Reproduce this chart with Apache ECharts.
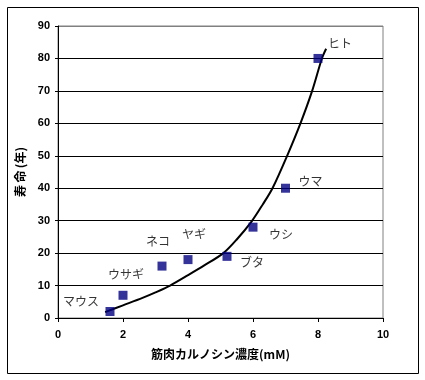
<!DOCTYPE html>
<html><head><meta charset="utf-8">
<script src="https://cdn.jsdelivr.net/npm/echarts@6/dist/echarts.min.js"></script>
<style>html,body{margin:0;padding:0;background:#fff}#c{width:425px;height:380px}</style>
</head><body><div id="c"></div>
<script>
// Data
const animals = ['マウス','ウサギ','ネコ','ヤギ','ブタ','ウシ','ウマ','ヒト'];
const carnosine = [1.6, 2, 3.2, 4, 5.2, 6, 7, 8];
const lifespan = [2, 7, 16, 18, 19, 28, 40, 80];
// trend curve points
const trendX = [1.45, 2.0, 2.6, 3.0, 3.45, 4.0, 4.5, 5.09, 5.5, 5.96, 6.3, 6.6, 7.05, 7.46, 7.82, 8.12, 8.25];
const trendY = [1.8, 3.9, 6.2, 7.9, 10.0, 13.2, 16.2, 20.0, 24.2, 29.8, 35.0, 40.0, 50.0, 60.0, 70.0, 80.0, 83.0];
const xTicks = [0, 2, 4, 6, 8, 10];
const yTicks = [0, 10, 20, 30, 40, 50, 60, 70, 80, 90];

const labelOffsets = {
  'マウス': [-29, -10], 'ウサギ': [3, -21], 'ネコ': [-4, -25], 'ヤギ': [6, -25],
  'ブタ': [25, 6], 'ウシ': [28, 7], 'ウマ': [25, -7], 'ヒト': [22, -15]
};

const chart = echarts.init(document.getElementById('c'), null, {renderer: 'canvas'});
const tickFont = {fontFamily: 'Liberation Sans', fontWeight: 'bold', fontSize: 11, color: '#000'};
const splitColors = yTicks.map((v, i) => i === yTicks.length - 1 ? '#808080' : '#000');

chart.setOption({
  animation: false,
  backgroundColor: '#fff',
  graphic: [{
    type: 'rect', shape: {x: 7.5, y: 7.5, width: 411, height: 366},
    style: {fill: 'none', stroke: '#000', lineWidth: 1}, z: -1
  }],
  grid: {left: 58, right: 42, top: 26, bottom: 62, show: true, borderColor: '#808080', borderWidth: 1, backgroundColor: '#fff'},
  xAxis: {
    type: 'value', min: xTicks[0], max: xTicks[xTicks.length - 1], interval: 2,
    name: '筋肉カルノシン濃度(mM)', nameLocation: 'middle', nameGap: 30,
    nameTextStyle: {fontFamily: 'Noto Sans CJK JP', fontWeight: 'bold', fontSize: 12, color: '#000'},
    axisLine: {lineStyle: {color: '#000', width: 1}},
    axisTick: {show: true, length: 4, lineStyle: {color: '#000'}},
    axisLabel: Object.assign({margin: 11}, tickFont),
    splitLine: {show: false}
  },
  yAxis: {
    type: 'value', min: yTicks[0], max: yTicks[yTicks.length - 1], interval: 10,
    name: '寿\u2009命\u2009(年)', nameLocation: 'middle', nameGap: 32, nameRotate: 90,
    nameTextStyle: {fontFamily: 'Noto Sans CJK JP', fontWeight: 'bold', fontSize: 12, color: '#000'},
    axisLine: {show: true, lineStyle: {color: '#000', width: 1}},
    axisTick: {show: true, length: 3, lineStyle: {color: '#000'}},
    axisLabel: Object.assign({margin: 8}, tickFont),
    splitLine: {show: true, lineStyle: {color: splitColors, width: 1}}
  },
  series: [
    {
      type: 'line', smooth: 0.3, showSymbol: false, silent: true, z: 2,
      lineStyle: {color: '#000', width: 2},
      data: trendX.map((x, i) => [x, trendY[i]])
    },
    {
      type: 'scatter', symbol: 'rect', symbolSize: 9, z: 3,
      itemStyle: {color: '#000080'},
      data: carnosine.map((x, i) => ({
        value: [x, lifespan[i]], name: animals[i],
        label: {
          show: true, position: 'inside', formatter: animals[i],
          offset: labelOffsets[animals[i]],
          fontFamily: 'Noto Sans CJK JP', fontSize: 12, color: '#000'
        }
      }))
    }
  ]
});
</script></body></html>
